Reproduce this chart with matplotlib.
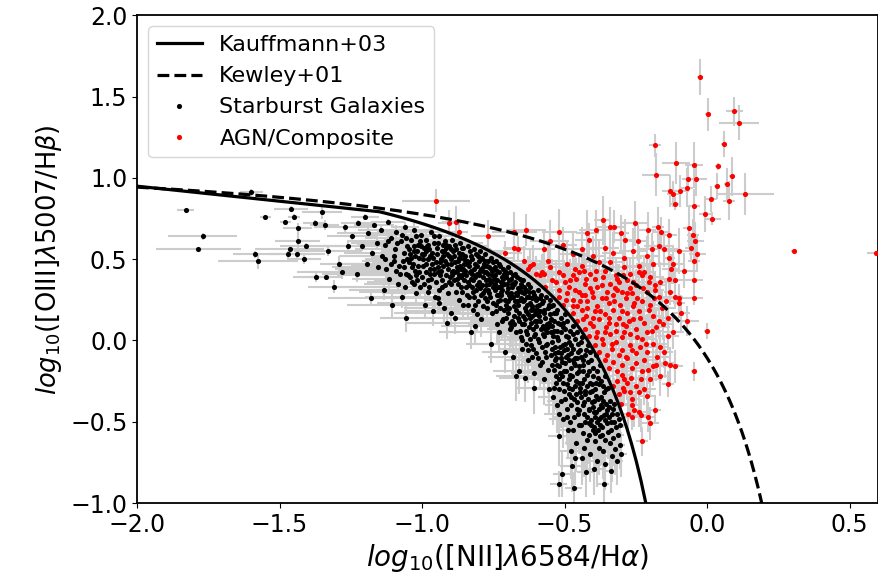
import numpy as np
import matplotlib
matplotlib.use('Agg')
import matplotlib.pyplot as plt

# demarcation lines, y = a / (x - b) + c
kauffmann_coef = (0.61, 0.05, 1.3)
kewley_coef = (0.61, 0.47, 1.19)
kauffmann_x = np.concatenate([[-2.7], np.linspace(-1.15, -0.2, 60)])
kewley_x = np.linspace(-2.0, 0.2, 200)

# starburst galaxies: (log NII/Ha, log OIII/Hb, xerr, yerr)
starburst = [
    (-1.83, 0.80, 0.03, 0.01), (-1.77, 0.64, 0.12, 0.02), (-1.785, 0.56, 0.15, 0.01), (-1.585, 0.53, 0.08, 0.02),
    (-1.577, 0.49, 0.14, 0.05), (-1.55, 0.76, 0.02, 0.01), (-1.60, 0.91, 0.04, 0.02), (-1.46, 0.81, 0.06, 0.02),
    (-1.45, 0.76, 0.02, 0.02), (-1.48, 0.73, 0.02, 0.01), (-1.437, 0.69, 0.05, 0.03), (-1.437, 0.61, 0.08, 0.05),
    (-1.465, 0.56, 0.12, 0.03), (-1.472, 0.53, 0.07, 0.02), (-1.44, 0.53, 0.10, 0.04), (-1.415, 0.50, 0.06, 0.03),
    (-1.408, 0.58, 0.09, 0.02), (-1.373, 0.39, 0.08, 0.03), (-1.338, 0.39, 0.06, 0.02), (-1.352, 0.79, 0.07, 0.04),
    (-1.377, 0.72, 0.04, 0.02), (-1.342, 0.71, 0.05, 0.03),
    (-1.33, 0.55, 0.12, 0.03), (-1.31, 0.33, 0.09, 0.04), (-1.29, 0.47, 0.07, 0.05), (-1.26, 0.58, 0.10, 0.04),
    (-1.27, 0.70, 0.11, 0.03), (-1.28, 0.42, 0.16, 0.04),
    (-1.245, 0.64, 0.09, 0.03), (-1.23, 0.41, 0.12, 0.05), (-1.225, 0.72, 0.06, 0.02), (-1.21, 0.58, 0.14, 0.03),
    (-1.195, 0.47, 0.08, 0.04), (-1.19, 0.66, 0.11, 0.03), (-1.18, 0.26, 0.15, 0.05), (-1.175, 0.54, 0.10, 0.03),
    (-1.17, 0.71, 0.07, 0.02), (-1.16, 0.60, 0.09, 0.04), (-1.155, 0.45, 0.16, 0.03), (-1.20, 0.76, 0.05, 0.02),
    (-1.145, 0.68, 0.08, 0.03), (-1.14, 0.52, 0.15, 0.05), (-1.135, 0.31, 0.12, 0.06), (-1.13, 0.59, 0.10, 0.04),
    (-1.125, 0.44, 0.18, 0.03), (-1.12, 0.73, 0.06, 0.02), (-1.115, 0.38, 0.13, 0.07), (-1.11, 0.63, 0.09, 0.04),
    (-1.105, 0.22, 0.16, 0.08), (-1.10, 0.49, 0.11, 0.05), (-1.095, 0.56, 0.14, 0.03), (-1.09, 0.67, 0.07, 0.04),
    (-1.085, 0.35, 0.12, 0.06), (-1.08, 0.46, 0.17, 0.04), (-1.075, 0.61, 0.08, 0.03), (-1.07, 0.27, 0.13, 0.07),
    (-1.065, 0.54, 0.10, 0.05), (-1.06, 0.70, 0.05, 0.03), (-1.058, 0.14, 0.09, 0.09), (-1.055, 0.41, 0.15, 0.05),
    (-1.052, 0.58, 0.11, 0.04), (-1.13, 0.50, 0.07, 0.03), (-1.09, 0.43, 0.19, 0.05), (-1.07, 0.65, 0.12, 0.04),
    (-1.12, 0.61, 0.14, 0.03),
    (-1.045, 0.48, 0.13, 0.05), (-1.04, 0.62, 0.09, 0.04), (-1.035, 0.36, 0.16, 0.06), (-1.03, 0.55, 0.11, 0.03),
    (-1.028, 0.68, 0.07, 0.04), (-1.025, 0.43, 0.14, 0.05), (-1.02, 0.29, 0.12, 0.07), (-1.015, 0.59, 0.10, 0.04),
    (-1.01, 0.51, 0.17, 0.05), (-1.005, 0.65, 0.08, 0.03), (-1.0, 0.39, 0.13, 0.06), (-0.998, 0.46, 0.09, 0.05),
    (-0.995, 0.57, 0.15, 0.04), (-0.99, 0.22, 0.11, 0.08), (-0.985, 0.62, 0.06, 0.04), (-0.98, 0.50, 0.12, 0.05),
    (-0.975, 0.33, 0.18, 0.06), (-0.972, 0.44, 0.10, 0.05), (-0.97, 0.67, 0.07, 0.03), (-0.965, 0.54, 0.14, 0.04),
    (-0.96, 0.41, 0.09, 0.06), (-0.958, 0.60, 0.11, 0.04), (-0.955, 0.27, 0.13, 0.07), (-0.952, 0.48, 0.08, 0.05),
    (-1.038, 0.51, 0.10, 0.04), (-1.012, 0.42, 0.15, 0.05), (-0.988, 0.55, 0.09, 0.04), (-0.968, 0.38, 0.12, 0.06),
    (-1.022, 0.64, 0.06, 0.03), (-0.978, 0.59, 0.13, 0.05), (-1.048, 0.40, 0.16, 0.06), (-0.962, 0.18, 0.10, 0.09),
    (-1.0, 0.53, 0.12, 0.04), (-0.985, 0.47, 0.07, 0.05), (-1.03, 0.35, 0.14, 0.06),
    (-0.948, 0.57, 0.09, 0.04), (-0.945, 0.42, 0.13, 0.06), (-0.942, 0.31, 0.11, 0.07), (-0.94, 0.64, 0.07, 0.03),
    (-0.935, 0.50, 0.15, 0.05), (-0.932, 0.37, 0.10, 0.06), (-0.93, 0.55, 0.12, 0.04), (-0.925, 0.46, 0.08, 0.05),
    (-0.922, 0.20, 0.14, 0.09), (-0.92, 0.61, 0.09, 0.04), (-0.915, 0.40, 0.16, 0.06), (-0.912, 0.53, 0.11, 0.05),
    (-0.91, 0.29, 0.10, 0.07), (-0.905, 0.58, 0.13, 0.04), (-0.90, 0.47, 0.08, 0.06), (-0.897, 0.35, 0.12, 0.07),
    (-0.895, 0.62, 0.06, 0.03), (-0.89, 0.43, 0.14, 0.05), (-0.887, 0.52, 0.09, 0.06), (-0.885, 0.14, 0.11, 0.10),
    (-0.88, 0.56, 0.10, 0.04), (-0.877, 0.38, 0.15, 0.06), (-0.875, 0.49, 0.07, 0.05), (-0.87, 0.25, 0.12, 0.08),
    (-0.867, 0.60, 0.08, 0.04), (-0.865, 0.44, 0.13, 0.06), (-0.862, 0.33, 0.09, 0.07), (-0.86, 0.53, 0.11, 0.05),
    (-0.857, 0.41, 0.14, 0.06), (-0.855, 0.57, 0.06, 0.04), (-0.852, 0.47, 0.10, 0.05), (-0.938, 0.48, 0.12, 0.05),
    (-0.918, 0.34, 0.08, 0.07), (-0.908, 0.44, 0.15, 0.06), (-0.892, 0.55, 0.10, 0.04), (-0.882, 0.30, 0.13, 0.08),
    (-0.872, 0.51, 0.09, 0.05), (-0.858, 0.22, 0.11, 0.09), (-0.928, 0.59, 0.07, 0.04), (-0.902, 0.39, 0.12, 0.06),
    (-0.868, 0.46, 0.10, 0.05), (-0.912, 0.11, 0.14, 0.10), (-0.946, 0.26, 0.09, 0.08), (-0.883, 0.42, 0.11, 0.06),
    (-0.853, 0.37, 0.08, 0.07),
    (-0.848, 0.52, 0.10, 0.05), (-0.845, 0.40, 0.12, 0.06), (-0.842, 0.28, 0.09, 0.08), (-0.84, 0.58, 0.07, 0.04),
    (-0.837, 0.46, 0.13, 0.05), (-0.835, 0.34, 0.10, 0.07), (-0.832, 0.55, 0.08, 0.04), (-0.83, 0.05, 0.11, 0.10),
    (-0.827, 0.43, 0.14, 0.06), (-0.825, 0.50, 0.09, 0.05), (-0.822, 0.19, 0.12, 0.09), (-0.82, 0.37, 0.10, 0.07),
    (-0.817, 0.56, 0.06, 0.04), (-0.815, 0.47, 0.11, 0.06), (-0.812, 0.31, 0.13, 0.08), (-0.81, 0.53, 0.08, 0.05),
    (-0.807, 0.41, 0.10, 0.06), (-0.805, 0.24, 0.12, 0.09), (-0.802, 0.49, 0.07, 0.05), (-0.80, 0.36, 0.11, 0.07),
    (-0.797, 0.55, 0.09, 0.04), (-0.795, 0.44, 0.13, 0.06), (-0.792, 0.13, 0.10, 0.11), (-0.79, 0.51, 0.08, 0.05),
    (-0.787, 0.39, 0.12, 0.07), (-0.785, 0.29, 0.09, 0.08), (-0.782, 0.47, 0.11, 0.06), (-0.78, 0.53, 0.06, 0.04),
    (-0.777, 0.34, 0.10, 0.07), (-0.775, 0.42, 0.13, 0.06), (-0.772, 0.20, 0.08, 0.10), (-0.77, 0.49, 0.09, 0.05),
    (-0.767, 0.38, 0.11, 0.07), (-0.765, 0.45, 0.07, 0.06), (-0.762, 0.27, 0.10, 0.09), (-0.76, 0.51, 0.08, 0.05),
    (-0.757, -0.02, 0.09, 0.12), (-0.755, 0.43, 0.12, 0.06), (-0.752, 0.33, 0.10, 0.08), (-0.75, 0.48, 0.07, 0.05),
    (-0.843, 0.49, 0.11, 0.05), (-0.828, 0.38, 0.09, 0.07), (-0.818, 0.44, 0.12, 0.06), (-0.808, 0.16, 0.10, 0.10),
    (-0.798, 0.32, 0.08, 0.08), (-0.788, 0.45, 0.11, 0.06), (-0.778, 0.26, 0.09, 0.09), (-0.768, 0.41, 0.12, 0.07),
    (-0.758, 0.36, 0.07, 0.07), (-0.838, 0.22, 0.10, 0.09), (-0.813, 0.09, 0.12, 0.11), (-0.793, 0.50, 0.08, 0.05),
    (-0.773, 0.46, 0.10, 0.06), (-0.753, 0.23, 0.09, 0.10), (-0.833, 0.42, 0.11, 0.06),
    (-0.748, 0.44, 0.09, 0.06), (-0.745, 0.31, 0.11, 0.08), (-0.742, 0.18, 0.08, 0.10), (-0.74, 0.49, 0.07, 0.05),
    (-0.737, 0.37, 0.10, 0.07), (-0.735, 0.24, 0.12, 0.09), (-0.732, 0.42, 0.08, 0.06), (-0.73, 0.05, 0.09, 0.12),
    (-0.727, 0.33, 0.11, 0.08), (-0.725, 0.46, 0.06, 0.05), (-0.722, 0.28, 0.10, 0.09), (-0.72, 0.39, 0.08, 0.07),
    (-0.717, 0.13, 0.09, 0.11), (-0.715, 0.44, 0.07, 0.06), (-0.712, 0.35, 0.10, 0.08), (-0.71, -0.07, 0.08, 0.13),
    (-0.707, 0.22, 0.11, 0.10), (-0.705, 0.41, 0.06, 0.06), (-0.702, 0.30, 0.09, 0.08), (-0.70, 0.45, 0.07, 0.05),
    (-0.697, 0.17, 0.10, 0.10), (-0.695, 0.37, 0.08, 0.07), (-0.692, 0.26, 0.09, 0.09), (-0.69, 0.42, 0.06, 0.06),
    (-0.687, 0.08, 0.08, 0.12), (-0.685, 0.33, 0.10, 0.08), (-0.682, 0.40, 0.07, 0.06), (-0.68, -0.10, 0.09, 0.14),
    (-0.677, 0.21, 0.08, 0.10), (-0.675, 0.36, 0.06, 0.07), (-0.672, 0.29, 0.09, 0.09), (-0.67, -0.22, 0.07, 0.15),
    (-0.667, 0.39, 0.06, 0.06), (-0.665, 0.14, 0.08, 0.11), (-0.662, 0.32, 0.07, 0.08), (-0.66, -0.19, 0.09, 0.14),
    (-0.657, 0.25, 0.07, 0.09), (-0.655, 0.38, 0.06, 0.06), (-0.652, 0.02, 0.08, 0.12), (-0.65, 0.30, 0.07, 0.08),
    (-0.743, 0.40, 0.10, 0.06), (-0.733, 0.28, 0.08, 0.09), (-0.723, 0.36, 0.09, 0.07), (-0.713, 0.19, 0.11, 0.10),
    (-0.703, 0.35, 0.07, 0.07), (-0.693, 0.11, 0.09, 0.11), (-0.683, 0.27, 0.08, 0.09), (-0.673, 0.41, 0.06, 0.06),
    (-0.663, 0.22, 0.08, 0.10), (-0.653, 0.35, 0.07, 0.07), (-0.738, 0.10, 0.10, 0.12), (-0.718, 0.31, 0.08, 0.08),
    (-0.698, 0.24, 0.09, 0.09), (-0.678, 0.15, 0.07, 0.11), (-0.658, 0.06, 0.08, 0.12), (-0.728, 0.20, 0.09, 0.10),
    (-0.708, 0.43, 0.06, 0.06), (-0.688, 0.38, 0.08, 0.07), (-0.668, 0.28, 0.07, 0.09), (-0.648, -0.05, 0.08, 0.13),
    (-0.647, 0.37, 0.06, 0.07), (-0.645, 0.24, 0.08, 0.09), (-0.642, 0.10, 0.07, 0.11), (-0.64, -0.23, 0.09, 0.15),
    (-0.637, 0.31, 0.06, 0.08), (-0.635, 0.18, 0.08, 0.10), (-0.632, 0.04, 0.07, 0.12), (-0.63, 0.35, 0.05, 0.07),
    (-0.627, -0.12, 0.08, 0.14), (-0.625, 0.27, 0.06, 0.09), (-0.622, 0.14, 0.07, 0.11), (-0.62, 0.33, 0.05, 0.07),
    (-0.617, -0.03, 0.08, 0.13), (-0.615, 0.21, 0.06, 0.10), (-0.612, 0.07, 0.07, 0.12), (-0.61, 0.30, 0.05, 0.08),
    (-0.607, -0.20, 0.08, 0.15), (-0.606, -0.29, 0.06, 0.16), (-0.605, 0.16, 0.07, 0.10), (-0.602, 0.25, 0.05, 0.09),
    (-0.60, -0.08, 0.08, 0.13), (-0.597, 0.12, 0.06, 0.11), (-0.595, 0.31, 0.05, 0.08), (-0.592, 0.01, 0.07, 0.12),
    (-0.59, 0.22, 0.06, 0.10), (-0.587, -0.15, 0.08, 0.14), (-0.585, 0.18, 0.05, 0.10), (-0.582, 0.28, 0.05, 0.08),
    (-0.58, -0.04, 0.07, 0.13), (-0.577, 0.09, 0.06, 0.11), (-0.575, 0.24, 0.05, 0.09), (-0.572, -0.24, 0.07, 0.16),
    (-0.57, 0.14, 0.06, 0.11), (-0.567, 0.27, 0.04, 0.08), (-0.565, -0.10, 0.07, 0.14), (-0.562, 0.05, 0.06, 0.12),
    (-0.56, 0.20, 0.05, 0.10), (-0.557, -0.18, 0.07, 0.15), (-0.555, 0.11, 0.05, 0.11), (-0.552, 0.25, 0.04, 0.09),
    (-0.643, 0.29, 0.07, 0.08), (-0.633, 0.22, 0.06, 0.09), (-0.623, 0.01, 0.08, 0.12), (-0.613, 0.26, 0.05, 0.09),
    (-0.603, 0.04, 0.07, 0.12), (-0.593, 0.17, 0.06, 0.10), (-0.583, 0.07, 0.07, 0.11), (-0.573, 0.19, 0.05, 0.10),
    (-0.563, -0.02, 0.06, 0.13), (-0.553, 0.16, 0.05, 0.10), (-0.638, 0.13, 0.07, 0.11), (-0.618, 0.11, 0.06, 0.11),
    (-0.598, 0.21, 0.05, 0.10), (-0.578, -0.13, 0.07, 0.14), (-0.558, 0.08, 0.05, 0.11), (-0.628, -0.06, 0.08, 0.13),
    (-0.608, 0.19, 0.06, 0.10), (-0.588, 0.26, 0.05, 0.09), (-0.568, -0.07, 0.06, 0.13), (-0.548, 0.21, 0.04, 0.09),
    (-0.634, 0.06, 0.07, 0.12), (-0.614, -0.10, 0.08, 0.14), (-0.594, -0.11, 0.06, 0.14), (-0.574, 0.03, 0.06, 0.12),
    (-0.554, -0.30, 0.05, 0.16),
    (-0.547, 0.13, 0.05, 0.11), (-0.545, -0.01, 0.06, 0.13), (-0.542, -0.35, 0.05, 0.17), (-0.54, 0.22, 0.04, 0.09),
    (-0.537, 0.06, 0.05, 0.12), (-0.535, -0.12, 0.06, 0.14), (-0.532, 0.17, 0.04, 0.10), (-0.53, -0.26, 0.05, 0.16),
    (-0.527, 0.02, 0.05, 0.12), (-0.525, 0.19, 0.04, 0.10), (-0.522, -0.07, 0.06, 0.13), (-0.52, -0.88, 0.03, 0.08),
    (-0.518, -0.59, 0.04, 0.18), (-0.517, 0.10, 0.05, 0.11), (-0.515, -0.20, 0.05, 0.15), (-0.512, 0.14, 0.04, 0.11),
    (-0.51, -0.82, 0.03, 0.14), (-0.507, -0.03, 0.05, 0.13), (-0.505, 0.08, 0.04, 0.11), (-0.502, -0.31, 0.05, 0.16),
    (-0.50, 0.16, 0.04, 0.10), (-0.497, -0.14, 0.05, 0.14), (-0.495, 0.03, 0.04, 0.12), (-0.492, -0.42, 0.05, 0.17),
    (-0.49, 0.12, 0.04, 0.11), (-0.487, -0.09, 0.05, 0.14), (-0.485, -0.24, 0.04, 0.15), (-0.482, 0.06, 0.04, 0.12),
    (-0.48, -0.50, 0.05, 0.18), (-0.477, -0.17, 0.04, 0.15), (-0.475, -0.77, 0.04, 0.16), (-0.472, 0.09, 0.04, 0.11),
    (-0.47, -0.05, 0.05, 0.13), (-0.468, -0.91, 0.03, 0.10), (-0.467, -0.36, 0.04, 0.17), (-0.465, 0.01, 0.04, 0.12),
    (-0.462, -0.28, 0.05, 0.16), (-0.46, -0.63, 0.04, 0.18), (-0.457, -0.11, 0.04, 0.14), (-0.455, 0.05, 0.03, 0.12),
    (-0.452, -0.45, 0.04, 0.17), (-0.45, -0.19, 0.04, 0.15), (-0.543, 0.09, 0.05, 0.11), (-0.533, -0.04, 0.06, 0.13),
    (-0.523, 0.11, 0.04, 0.11), (-0.513, -0.11, 0.05, 0.14), (-0.503, -0.06, 0.05, 0.13), (-0.493, -0.27, 0.04, 0.16),
    (-0.483, -0.01, 0.04, 0.13), (-0.473, -0.30, 0.05, 0.16), (-0.463, -0.15, 0.04, 0.14), (-0.453, -0.02, 0.04, 0.13),
    (-0.538, -0.18, 0.05, 0.15), (-0.528, -0.40, 0.04, 0.17), (-0.518, -0.16, 0.05, 0.15), (-0.508, -0.22, 0.04, 0.15),
    (-0.498, -0.36, 0.05, 0.17), (-0.488, -0.55, 0.04, 0.18), (-0.478, -0.68, 0.04, 0.17), (-0.468, -0.47, 0.04, 0.18),
    (-0.458, -0.38, 0.04, 0.17), (-0.548, -0.09, 0.05, 0.14), (-0.525, 0.06, 0.04, 0.12), (-0.505, -0.48, 0.05, 0.18),
    (-0.485, -0.12, 0.04, 0.14), (-0.465, -0.72, 0.03, 0.17), (-0.498, 0.07, 0.04, 0.12), (-0.478, -0.40, 0.04, 0.17),
    (-0.447, -0.06, 0.04, 0.13), (-0.445, -0.29, 0.04, 0.16), (-0.442, -0.52, 0.04, 0.18), (-0.44, 0.02, 0.03, 0.12),
    (-0.437, -0.15, 0.04, 0.14), (-0.435, -0.40, 0.04, 0.17), (-0.432, -0.66, 0.03, 0.18), (-0.43, -0.09, 0.04, 0.14),
    (-0.427, -0.33, 0.04, 0.16), (-0.425, -0.81, 0.03, 0.15), (-0.422, -0.21, 0.04, 0.15), (-0.42, -0.47, 0.04, 0.18),
    (-0.417, -0.03, 0.03, 0.13), (-0.415, -0.58, 0.04, 0.18), (-0.412, -0.26, 0.03, 0.16), (-0.41, -0.70, 0.03, 0.17),
    (-0.407, -0.12, 0.03, 0.14), (-0.405, -0.38, 0.04, 0.17), (-0.402, -0.55, 0.03, 0.18), (-0.40, -0.17, 0.03, 0.15),
    (-0.397, -0.44, 0.04, 0.17), (-0.395, -0.62, 0.03, 0.18), (-0.392, -0.30, 0.03, 0.16), (-0.39, -0.09, 0.03, 0.13),
    (-0.387, -0.50, 0.03, 0.18), (-0.385, -0.74, 0.03, 0.16), (-0.382, -0.23, 0.03, 0.15), (-0.38, -0.42, 0.03, 0.17),
    (-0.377, -0.59, 0.03, 0.18), (-0.375, -0.15, 0.03, 0.14), (-0.372, -0.35, 0.03, 0.16), (-0.37, -0.53, 0.03, 0.18),
    (-0.367, -0.68, 0.03, 0.17), (-0.365, -0.28, 0.03, 0.16), (-0.363, -0.88, 0.02, 0.12), (-0.362, -0.46, 0.03, 0.17),
    (-0.36, -0.22, 0.03, 0.15), (-0.357, -0.61, 0.03, 0.18), (-0.355, -0.39, 0.03, 0.17), (-0.352, -0.51, 0.03, 0.18),
    (-0.443, -0.35, 0.04, 0.17), (-0.433, -0.24, 0.04, 0.15), (-0.423, -0.61, 0.03, 0.18), (-0.413, -0.43, 0.04, 0.17),
    (-0.403, -0.27, 0.03, 0.16), (-0.393, -0.57, 0.03, 0.18), (-0.383, -0.36, 0.03, 0.17), (-0.373, -0.47, 0.03, 0.17),
    (-0.363, -0.32, 0.03, 0.16), (-0.353, -0.43, 0.03, 0.17), (-0.438, -0.72, 0.03, 0.17), (-0.418, -0.13, 0.03, 0.14),
    (-0.398, -0.79, 0.03, 0.16), (-0.378, -0.66, 0.03, 0.17), (-0.358, -0.76, 0.03, 0.16), (-0.448, -0.43, 0.04, 0.17),
    (-0.428, -0.50, 0.04, 0.18), (-0.408, -0.49, 0.03, 0.18), (-0.388, -0.19, 0.03, 0.15), (-0.368, -0.41, 0.03, 0.17),
    (-0.348, -0.29, 0.03, 0.15), (-0.345, -0.47, 0.03, 0.17), (-0.342, -0.63, 0.03, 0.18), (-0.34, -0.37, 0.03, 0.16),
    (-0.337, -0.55, 0.03, 0.17), (-0.335, -0.71, 0.02, 0.16), (-0.332, -0.42, 0.03, 0.17), (-0.33, -0.60, 0.03, 0.17),
    (-0.327, -0.50, 0.02, 0.17), (-0.325, -0.39, 0.03, 0.16), (-0.322, -0.67, 0.02, 0.16), (-0.32, -0.53, 0.03, 0.17),
    (-0.317, -0.45, 0.02, 0.16), (-0.315, -0.74, 0.02, 0.15), (-0.312, -0.58, 0.02, 0.16), (-0.31, -0.48, 0.02, 0.16),
    (-0.307, -0.64, 0.02, 0.15), (-0.305, -0.52, 0.02, 0.16), (-0.302, -0.70, 0.02, 0.14), (-0.338, -0.80, 0.02, 0.14),
    # dense core of the starburst band
    (-1.098, 0.52, 0.12, 0.04), (-1.087, 0.60, 0.09, 0.03), (-1.076, 0.41, 0.14, 0.05), (-1.067, 0.49, 0.10, 0.04),
    (-1.057, 0.63, 0.08, 0.03), (-1.046, 0.56, 0.13, 0.04), (-1.036, 0.45, 0.11, 0.05), (-1.027, 0.58, 0.09, 0.04),
    (-1.018, 0.37, 0.15, 0.06), (-1.007, 0.61, 0.07, 0.03), (-0.997, 0.50, 0.12, 0.05), (-0.987, 0.42, 0.10, 0.05),
    (-0.977, 0.56, 0.08, 0.04), (-0.966, 0.47, 0.13, 0.05), (-0.957, 0.64, 0.07, 0.03), (-0.947, 0.53, 0.11, 0.04),
    (-0.936, 0.40, 0.09, 0.06), (-0.926, 0.52, 0.12, 0.05), (-0.917, 0.57, 0.08, 0.04), (-0.906, 0.36, 0.10, 0.06),
    (-1.062, 0.45, 0.11, 0.05), (-1.041, 0.39, 0.09, 0.05), (-1.003, 0.58, 0.10, 0.04), (-0.981, 0.37, 0.12, 0.06),
    (-0.943, 0.45, 0.10, 0.05), (-0.921, 0.49, 0.09, 0.05),
    (-0.898, 0.50, 0.10, 0.05), (-0.889, 0.37, 0.12, 0.06), (-0.879, 0.45, 0.09, 0.05), (-0.869, 0.54, 0.07, 0.04),
    (-0.859, 0.30, 0.11, 0.07), (-0.849, 0.43, 0.10, 0.06), (-0.839, 0.36, 0.08, 0.07), (-0.829, 0.52, 0.09, 0.05),
    (-0.819, 0.27, 0.12, 0.08), (-0.809, 0.46, 0.08, 0.06), (-0.799, 0.40, 0.10, 0.06), (-0.789, 0.34, 0.11, 0.07),
    (-0.779, 0.49, 0.07, 0.05), (-0.769, 0.31, 0.09, 0.08), (-0.759, 0.44, 0.08, 0.06), (-0.749, 0.38, 0.10, 0.07),
    (-0.739, 0.28, 0.09, 0.08), (-0.729, 0.47, 0.07, 0.05), (-0.719, 0.34, 0.08, 0.07), (-0.709, 0.25, 0.10, 0.09),
    (-0.884, 0.48, 0.09, 0.05), (-0.864, 0.39, 0.11, 0.06), (-0.844, 0.47, 0.08, 0.05), (-0.824, 0.33, 0.10, 0.07),
    (-0.804, 0.52, 0.07, 0.05), (-0.784, 0.42, 0.09, 0.06), (-0.764, 0.35, 0.08, 0.07), (-0.744, 0.45, 0.07, 0.06),
    (-0.724, 0.30, 0.09, 0.08), (-0.704, 0.39, 0.08, 0.07), (-0.874, 0.35, 0.10, 0.07), (-0.834, 0.48, 0.08, 0.05),
    (-0.794, 0.28, 0.11, 0.08), (-0.754, 0.40, 0.09, 0.07), (-0.714, 0.41, 0.07, 0.06), (-0.894, 0.42, 0.09, 0.06),
    (-0.854, 0.50, 0.08, 0.05), (-0.814, 0.39, 0.10, 0.06), (-0.774, 0.24, 0.09, 0.09), (-0.734, 0.33, 0.08, 0.08),
    (-0.699, 0.32, 0.08, 0.08), (-0.694, 0.20, 0.09, 0.10), (-0.689, 0.29, 0.07, 0.09), (-0.684, 0.12, 0.08, 0.11),
    (-0.679, 0.35, 0.06, 0.07), (-0.674, 0.24, 0.08, 0.09), (-0.669, 0.05, 0.09, 0.12), (-0.664, 0.30, 0.07, 0.08),
    (-0.659, 0.17, 0.08, 0.10), (-0.654, 0.26, 0.06, 0.09), (-0.649, 0.10, 0.08, 0.11), (-0.644, 0.33, 0.06, 0.08),
    (-0.639, 0.20, 0.07, 0.10), (-0.636, -0.02, 0.08, 0.13), (-0.631, 0.27, 0.06, 0.09), (-0.626, 0.08, 0.07, 0.11),
    (-0.621, 0.23, 0.06, 0.10), (-0.616, 0.15, 0.07, 0.10), (-0.611, -0.05, 0.08, 0.13), (-0.606, 0.28, 0.05, 0.08),
    (-0.601, 0.09, 0.07, 0.11), (-0.596, 0.19, 0.06, 0.10), (-0.591, -0.01, 0.07, 0.12), (-0.586, 0.12, 0.06, 0.11),
    (-0.581, 0.23, 0.05, 0.09), (-0.576, 0.04, 0.07, 0.12), (-0.571, 0.17, 0.06, 0.10), (-0.566, -0.03, 0.07, 0.13),
    (-0.561, 0.10, 0.06, 0.11), (-0.556, 0.22, 0.05, 0.09), (-0.691, 0.07, 0.08, 0.12), (-0.671, 0.19, 0.07, 0.10),
    (-0.651, 0.00, 0.08, 0.12), (-0.629, 0.16, 0.07, 0.10), (-0.609, 0.03, 0.07, 0.12), (-0.589, 0.15, 0.06, 0.10),
    (-0.569, 0.07, 0.06, 0.11), (-0.681, 0.27, 0.07, 0.09), (-0.641, 0.25, 0.06, 0.09), (-0.599, 0.26, 0.05, 0.09),
    (-0.549, 0.05, 0.05, 0.12), (-0.544, -0.15, 0.06, 0.14), (-0.539, 0.12, 0.05, 0.11), (-0.534, -0.08, 0.05, 0.13),
    (-0.529, -0.22, 0.06, 0.15), (-0.524, 0.00, 0.05, 0.12), (-0.519, -0.30, 0.05, 0.16), (-0.514, 0.05, 0.04, 0.12),
    (-0.509, -0.13, 0.05, 0.14), (-0.504, -0.26, 0.05, 0.15), (-0.499, -0.02, 0.04, 0.13), (-0.494, -0.19, 0.05, 0.15),
    (-0.489, 0.02, 0.04, 0.12), (-0.484, -0.33, 0.05, 0.16), (-0.479, -0.08, 0.04, 0.13), (-0.474, -0.22, 0.04, 0.15),
    (-0.469, 0.04, 0.04, 0.12), (-0.464, -0.11, 0.04, 0.14), (-0.459, -0.25, 0.04, 0.16), (-0.454, -0.07, 0.04, 0.13),
    (-0.449, -0.16, 0.04, 0.15), (-0.444, -0.01, 0.04, 0.13), (-0.439, -0.26, 0.04, 0.16), (-0.434, -0.12, 0.04, 0.14),
    (-0.429, -0.31, 0.04, 0.16), (-0.424, -0.06, 0.03, 0.13), (-0.536, 0.17, 0.04, 0.10), (-0.516, -0.04, 0.05, 0.13),
    (-0.496, -0.10, 0.05, 0.14), (-0.476, -0.03, 0.04, 0.13), (-0.456, -0.20, 0.04, 0.15), (-0.436, -0.19, 0.04, 0.15),
    (-0.526, -0.15, 0.05, 0.14), (-0.506, 0.11, 0.04, 0.11), (-0.486, -0.29, 0.05, 0.16), (-0.466, -0.14, 0.04, 0.14),
    (-0.446, -0.32, 0.04, 0.16),
    (-0.419, -0.36, 0.03, 0.16), (-0.414, -0.19, 0.03, 0.15), (-0.409, -0.52, 0.04, 0.17), (-0.404, -0.31, 0.03, 0.16),
    (-0.399, -0.22, 0.03, 0.15), (-0.394, -0.47, 0.03, 0.17), (-0.389, -0.34, 0.03, 0.16), (-0.384, -0.55, 0.03, 0.18),
    (-0.379, -0.27, 0.03, 0.15), (-0.374, -0.40, 0.03, 0.17), (-0.369, -0.58, 0.03, 0.18), (-0.364, -0.37, 0.03, 0.16),
    (-0.359, -0.49, 0.03, 0.17), (-0.354, -0.30, 0.03, 0.15), (-0.349, -0.56, 0.03, 0.17), (-0.344, -0.41, 0.03, 0.16),
    (-0.339, -0.50, 0.03, 0.17), (-0.334, -0.45, 0.03, 0.16), (-0.416, -0.42, 0.03, 0.17), (-0.396, -0.37, 0.03, 0.16),
    (-0.376, -0.52, 0.03, 0.17), (-0.356, -0.45, 0.03, 0.17), (-0.411, -0.32, 0.03, 0.16), (-0.391, -0.44, 0.03, 0.17),
    (-0.371, -0.25, 0.03, 0.15),
    (-1.043, 0.53, 0.10, 0.04), (-1.033, 0.47, 0.13, 0.05), (-1.024, 0.52, 0.09, 0.04), (-1.016, 0.46, 0.11, 0.05),
    (-1.008, 0.33, 0.14, 0.06), (-0.993, 0.53, 0.08, 0.04), (-0.983, 0.58, 0.10, 0.04), (-0.974, 0.41, 0.12, 0.06),
    (-0.963, 0.51, 0.09, 0.05), (-0.953, 0.36, 0.11, 0.06), (-0.944, 0.60, 0.08, 0.04), (-0.934, 0.43, 0.12, 0.05),
    (-0.924, 0.55, 0.09, 0.04), (-0.914, 0.47, 0.10, 0.05), (-0.904, 0.52, 0.08, 0.05), (-0.896, 0.40, 0.11, 0.06),
    (-0.886, 0.59, 0.07, 0.04), (-0.876, 0.43, 0.10, 0.06), (-0.866, 0.51, 0.09, 0.05), (-0.856, 0.44, 0.08, 0.06),
    (-1.019, 0.55, 0.12, 0.04), (-0.992, 0.35, 0.10, 0.06), (-0.959, 0.44, 0.13, 0.05), (-0.931, 0.33, 0.09, 0.07),
    (-0.899, 0.56, 0.10, 0.04), (-0.871, 0.40, 0.12, 0.06), (-1.053, 0.50, 0.09, 0.05), (-0.971, 0.52, 0.11, 0.05),
    (-0.916, 0.59, 0.07, 0.04), (-0.861, 0.57, 0.08, 0.04),
    (-0.846, 0.33, 0.10, 0.07), (-0.836, 0.27, 0.09, 0.08), (-0.826, 0.41, 0.11, 0.06), (-0.816, 0.22, 0.10, 0.09),
    (-0.806, 0.34, 0.08, 0.07), (-0.796, 0.43, 0.09, 0.06), (-0.786, 0.21, 0.10, 0.09), (-0.776, 0.37, 0.08, 0.07),
    (-0.766, 0.29, 0.09, 0.08), (-0.756, 0.17, 0.10, 0.10), (-0.746, 0.35, 0.08, 0.07), (-0.736, 0.43, 0.07, 0.06),
    (-0.726, 0.25, 0.09, 0.09), (-0.716, 0.38, 0.07, 0.07), (-0.706, 0.14, 0.09, 0.11), (-0.696, 0.28, 0.08, 0.08),
    (-0.686, 0.35, 0.07, 0.07), (-0.676, 0.10, 0.08, 0.11), (-0.666, 0.24, 0.07, 0.09), (-0.656, 0.32, 0.06, 0.08),
    (-0.646, 0.15, 0.07, 0.10), (-0.624, 0.30, 0.06, 0.08), (-0.619, 0.19, 0.06, 0.10), (-0.604, 0.12, 0.07, 0.11),
    (-0.741, 0.22, 0.09, 0.09), (-0.721, 0.12, 0.10, 0.11), (-0.701, 0.20, 0.08, 0.10), (-0.661, 0.12, 0.08, 0.11),
    (-0.781, 0.31, 0.09, 0.08), (-0.821, 0.30, 0.10, 0.08),
    (-0.546, -0.05, 0.05, 0.13), (-0.541, 0.03, 0.05, 0.12), (-0.531, -0.11, 0.06, 0.14), (-0.521, -0.24, 0.05, 0.15),
    (-0.511, -0.08, 0.05, 0.14), (-0.501, -0.19, 0.05, 0.15), (-0.491, -0.05, 0.04, 0.13), (-0.481, -0.21, 0.05, 0.15),
    (-0.471, -0.12, 0.04, 0.14), (-0.461, -0.33, 0.04, 0.16), (-0.451, -0.26, 0.04, 0.16), (-0.441, -0.10, 0.04, 0.14),
    (-0.431, -0.38, 0.04, 0.17), (-0.421, -0.28, 0.04, 0.16), (-0.411, -0.07, 0.03, 0.14), (-0.401, -0.41, 0.03, 0.17),
    (-0.391, -0.26, 0.03, 0.16), (-0.381, -0.48, 0.03, 0.17), (-0.511, -0.37, 0.05, 0.17), (-0.491, -0.47, 0.05, 0.17),
    (-0.471, -0.55, 0.04, 0.18), (-0.451, -0.52, 0.04, 0.18), (-0.431, -0.45, 0.04, 0.17), (-0.521, -0.45, 0.05, 0.17),
    (-0.536, -0.29, 0.05, 0.16), (-0.476, -0.35, 0.04, 0.16), (-0.456, -0.42, 0.04, 0.17), (-0.436, -0.57, 0.04, 0.18),
    (-0.416, -0.51, 0.03, 0.17), (-0.396, -0.53, 0.03, 0.18),
    (-1.11, 0.47, 0.22, 0.04), (-1.06, 0.33, 0.25, 0.05), (-1.02, 0.40, 0.28, 0.05), (-0.98, 0.30, 0.24, 0.06),
    (-0.94, 0.23, 0.22, 0.07), (-0.90, 0.17, 0.20, 0.08),
]

# AGN / composite: (log NII/Ha, log OIII/Hb, xerr, yerr)
agn = [
    (-0.025, 1.62, 0.01, 0.11), (0.004, 1.39, 0.01, 0.10), (0.095, 1.41, 0.03, 0.09), (0.113, 1.34, 0.07, 0.11),
    (0.06, 1.21, 0.01, 0.08), (-0.183, 1.20, 0.02, 0.07), (-0.109, 1.09, 0.05, 0.13), (-0.046, 1.08, 0.03, 0.14),
    (-0.18, 1.02, 0.05, 0.13), (0.039, 1.07, 0.01, 0.02), (0.088, 1.01, 0.01, 0.12), (-0.067, 0.99, 0.02, 0.08),
    (-0.039, 0.99, 0.04, 0.10), (0.07, 0.96, 0.01, 0.10), (0.035, 0.95, 0.01, 0.08), (0.134, 0.90, 0.10, 0.13),
    (-0.13, 0.92, 0.03, 0.10), (-0.12, 0.90, 0.02, 0.08), (-0.095, 0.92, 0.02, 0.10), (-0.07, 0.94, 0.02, 0.12),
    (-0.113, 0.84, 0.02, 0.04), (-0.046, 0.83, 0.02, 0.10), (0.014, 0.87, 0.02, 0.08), (0.077, 0.86, 0.02, 0.12),
    (-0.007, 0.78, 0.02, 0.11), (0.018, 0.75, 0.03, 0.04), (0.306, 0.55, 0.01, 0.01), (0.592, 0.54, 0.03, 0.01),
    (-0.951, 0.86, 0.12, 0.07), (-0.905, 0.72, 0.04, 0.08), (-0.88, 0.73, 0.05, 0.10), (-0.87, 0.67, 0.03, 0.07),
    (-0.768, 0.64, 0.06, 0.10), (-0.676, 0.67, 0.08, 0.12), (-0.637, 0.68, 0.07, 0.10), (-0.676, 0.57, 0.04, 0.09),
    (-0.662, 0.56, 0.05, 0.08), (-0.708, 0.54, 0.06, 0.07), (-0.641, 0.49, 0.05, 0.09), (-0.623, 0.46, 0.04, 0.10),
    (-0.63, 0.44, 0.05, 0.08), (-0.602, 0.41, 0.04, 0.11), (-0.588, 0.40, 0.03, 0.09), (-0.574, 0.41, 0.05, 0.10),
    (-0.56, 0.49, 0.06, 0.12), (-0.574, 0.56, 0.04, 0.10), (-0.553, 0.61, 0.07, 0.13), (-0.507, 0.59, 0.05, 0.11),
    (-0.518, 0.67, 0.06, 0.14), (-0.42, 0.66, 0.04, 0.14), (-0.415, 0.62, 0.05, 0.10), (-0.39, 0.68, 0.06, 0.12),
    (-0.366, 0.74, 0.03, 0.15), (-0.342, 0.70, 0.05, 0.12), (-0.327, 0.70, 0.04, 0.10), (-0.303, 0.66, 0.03, 0.11),
    (-0.289, 0.62, 0.04, 0.13), (-0.254, 0.72, 0.05, 0.14), (-0.243, 0.61, 0.03, 0.12), (-0.208, 0.68, 0.03, 0.11),
    (-0.194, 0.56, 0.04, 0.10), (-0.173, 0.70, 0.02, 0.12), (-0.162, 0.67, 0.03, 0.09), (-0.151, 0.56, 0.05, 0.11),
    (-0.134, 0.65, 0.03, 0.10), (-0.134, 0.51, 0.02, 0.12), (-0.127, 0.44, 0.03, 0.09), (-0.113, 0.37, 0.04, 0.08),
    (-0.134, 0.38, 0.03, 0.10), (-0.063, 0.69, 0.02, 0.13), (-0.049, 0.65, 0.02, 0.10), (-0.042, 0.61, 0.03, 0.12),
    (-0.056, 0.57, 0.02, 0.09), (-0.035, 0.53, 0.03, 0.11), (-0.046, 0.49, 0.02, 0.10), (-0.046, 0.26, 0.03, 0.04),
    (-0.099, 0.26, 0.03, 0.09), (-0.13, 0.30, 0.02, 0.08), (-0.046, 0.37, 0.03, 0.10), (0.0, 0.06, 0.01, 0.05),
    (-0.047, -0.19, 0.01, 0.06), (-0.137, 0.14, 0.03, 0.08), (-0.113, 0.27, 0.03, 0.07), (-0.099, 0.23, 0.02, 0.09),
    (-0.165, -0.04, 0.03, 0.10), (-0.137, 0.03, 0.04, 0.09), (-0.465, 0.44, 0.05, 0.10), (-0.433, 0.43, 0.04, 0.12),
    (-0.342, 0.48, 0.05, 0.11), (-0.32, 0.40, 0.03, 0.10), (-0.317, 0.38, 0.04, 0.09), (-0.239, 0.46, 0.06, 0.12),
    (-0.222, 0.42, 0.04, 0.10), (-0.229, 0.40, 0.03, 0.08), (-0.204, 0.36, 0.05, 0.11), (-0.183, 0.34, 0.04, 0.09),
    (-0.183, 0.31, 0.03, 0.10), (-0.169, 0.27, 0.04, 0.08), (-0.324, 0.32, 0.03, 0.10), (-0.30, 0.30, 0.04, 0.12),
    (-0.264, 0.29, 0.05, 0.09), (-0.271, 0.32, 0.03, 0.10), (-0.246, 0.26, 0.04, 0.11),
    (-0.229, -0.62, 0.02, 0.09), (-0.20, -0.51, 0.03, 0.10), (-0.183, -0.43, 0.02, 0.08), (-0.208, -0.47, 0.03, 0.09),
    (-0.232, -0.46, 0.02, 0.10), (-0.264, -0.47, 0.03, 0.08), (-0.278, -0.45, 0.02, 0.11), (-0.239, -0.44, 0.03, 0.09),
    (-0.255, -0.43, 0.02, 0.10), (-0.264, -0.40, 0.03, 0.08), (-0.264, -0.36, 0.02, 0.10), (-0.303, -0.39, 0.03, 0.09),
    (-0.239, -0.32, 0.04, 0.11), (-0.232, -0.24, 0.03, 0.09), (-0.20, -0.24, 0.04, 0.10), (-0.165, -0.22, 0.03, 0.12),
    (-0.137, -0.27, 0.02, 0.08), (-0.18, -0.15, 0.03, 0.10), (-0.148, -0.14, 0.04, 0.09), (-0.13, -0.15, 0.03, 0.11),
    (-0.113, -0.16, 0.03, 0.10), (-0.208, -0.18, 0.02, 0.09), (-0.268, -0.23, 0.03, 0.10), (-0.292, -0.24, 0.02, 0.08),
    (-0.30, -0.21, 0.03, 0.11), (-0.292, -0.31, 0.02, 0.09),
    (-0.61, 0.47, 0.05, 0.12), (-0.55, 0.45, 0.06, 0.14), (-0.52, 0.42, 0.04, 0.11), (-0.49, 0.47, 0.07, 0.15),
    (-0.47, 0.40, 0.05, 0.12), (-0.44, 0.46, 0.06, 0.13), (-0.41, 0.41, 0.04, 0.11), (-0.38, 0.48, 0.05, 0.14),
    (-0.36, 0.43, 0.06, 0.12), (-0.29, 0.45, 0.05, 0.13), (-0.27, 0.41, 0.04, 0.10), (-0.19, 0.47, 0.06, 0.14),
    (-0.57, 0.33, 0.04, 0.11), (-0.545, 0.37, 0.05, 0.13), (-0.52, 0.31, 0.04, 0.10), (-0.50, 0.36, 0.06, 0.12),
    (-0.485, 0.33, 0.05, 0.11), (-0.46, 0.38, 0.04, 0.13), (-0.45, 0.30, 0.05, 0.10), (-0.43, 0.35, 0.06, 0.12),
    (-0.41, 0.32, 0.04, 0.11), (-0.395, 0.38, 0.05, 0.13), (-0.37, 0.34, 0.04, 0.10), (-0.35, 0.30, 0.05, 0.12),
    (-0.31, 0.36, 0.06, 0.11), (-0.28, 0.37, 0.04, 0.13), (-0.25, 0.34, 0.05, 0.10), (-0.21, 0.30, 0.04, 0.12),
    (-0.52, 0.27, 0.04, 0.11), (-0.505, 0.22, 0.05, 0.10), (-0.49, 0.29, 0.04, 0.12), (-0.47, 0.25, 0.05, 0.11),
    (-0.455, 0.21, 0.04, 0.10), (-0.44, 0.28, 0.05, 0.12), (-0.42, 0.24, 0.04, 0.11), (-0.40, 0.27, 0.05, 0.13),
    (-0.385, 0.21, 0.04, 0.10), (-0.37, 0.26, 0.05, 0.12), (-0.345, 0.23, 0.04, 0.11), (-0.33, 0.28, 0.05, 0.10),
    (-0.305, 0.22, 0.04, 0.12), (-0.285, 0.26, 0.05, 0.11), (-0.26, 0.21, 0.04, 0.13), (-0.23, 0.24, 0.05, 0.10),
    (-0.20, 0.22, 0.04, 0.12), (-0.16, 0.20, 0.05, 0.11),
    (-0.47, 0.17, 0.04, 0.11), (-0.455, 0.12, 0.05, 0.10), (-0.44, 0.19, 0.04, 0.12), (-0.425, 0.15, 0.05, 0.11),
    (-0.41, 0.11, 0.04, 0.10), (-0.395, 0.18, 0.05, 0.12), (-0.38, 0.13, 0.04, 0.11), (-0.36, 0.16, 0.05, 0.13),
    (-0.345, 0.11, 0.04, 0.10), (-0.33, 0.19, 0.05, 0.12), (-0.31, 0.14, 0.04, 0.11), (-0.295, 0.10, 0.05, 0.10),
    (-0.28, 0.17, 0.04, 0.12), (-0.26, 0.13, 0.05, 0.11), (-0.24, 0.18, 0.04, 0.13), (-0.22, 0.11, 0.05, 0.10),
    (-0.19, 0.15, 0.04, 0.12), (-0.17, 0.12, 0.05, 0.11),
    (-0.43, 0.07, 0.04, 0.11), (-0.415, 0.03, 0.04, 0.10), (-0.40, 0.09, 0.05, 0.12), (-0.385, 0.05, 0.04, 0.11),
    (-0.37, 0.01, 0.05, 0.10), (-0.355, 0.08, 0.04, 0.12), (-0.34, 0.04, 0.05, 0.11), (-0.32, 0.06, 0.04, 0.13),
    (-0.30, 0.02, 0.05, 0.10), (-0.285, 0.09, 0.04, 0.12), (-0.27, 0.04, 0.05, 0.11), (-0.25, 0.07, 0.04, 0.10),
    (-0.23, 0.01, 0.05, 0.12), (-0.21, 0.05, 0.04, 0.11), (-0.18, 0.08, 0.05, 0.10),
    (-0.395, -0.03, 0.04, 0.11), (-0.38, -0.07, 0.04, 0.10), (-0.365, -0.02, 0.05, 0.12), (-0.35, -0.09, 0.04, 0.11),
    (-0.335, -0.05, 0.05, 0.10), (-0.32, -0.01, 0.04, 0.12), (-0.30, -0.06, 0.05, 0.11), (-0.285, -0.10, 0.04, 0.13),
    (-0.27, -0.03, 0.05, 0.10), (-0.25, -0.08, 0.04, 0.12), (-0.235, -0.04, 0.05, 0.11), (-0.21, -0.07, 0.04, 0.10),
    (-0.19, -0.02, 0.05, 0.12),
    (-0.36, -0.12, 0.04, 0.11), (-0.345, -0.17, 0.04, 0.12), (-0.33, -0.13, 0.05, 0.10), (-0.315, -0.19, 0.04, 0.11),
    (-0.30, -0.15, 0.05, 0.12), (-0.28, -0.11, 0.04, 0.10), (-0.265, -0.17, 0.05, 0.11), (-0.25, -0.14, 0.04, 0.12),
    (-0.23, -0.19, 0.05, 0.10), (-0.22, -0.12, 0.04, 0.11), (-0.19, -0.16, 0.05, 0.12),
    (-0.33, -0.28, 0.03, 0.11), (-0.315, -0.25, 0.04, 0.10), (-0.31, -0.33, 0.03, 0.12), (-0.295, -0.29, 0.04, 0.11),
    (-0.28, -0.26, 0.03, 0.10), (-0.27, -0.32, 0.04, 0.12), (-0.25, -0.28, 0.03, 0.11), (-0.22, -0.30, 0.04, 0.10),
    (-0.21, -0.34, 0.03, 0.12),
    (-0.47, 0.53, 0.05, 0.13), (-0.44, 0.56, 0.06, 0.14), (-0.40, 0.52, 0.04, 0.12), (-0.36, 0.57, 0.05, 0.15),
    (-0.33, 0.54, 0.04, 0.12), (-0.29, 0.51, 0.06, 0.13), (-0.26, 0.55, 0.05, 0.14), (-0.21, 0.52, 0.04, 0.12),
    (-0.17, 0.58, 0.05, 0.13), (-0.12, 0.47, 0.04, 0.12), (-0.10, 0.55, 0.05, 0.14), (-0.08, 0.43, 0.04, 0.11),
    (-0.12, 0.05, 0.04, 0.10), (-0.09, 0.17, 0.03, 0.11), (-0.07, 0.12, 0.04, 0.09), (-0.15, -0.07, 0.03, 0.10),
    (-0.505, 0.40, 0.05, 0.12), (-0.495, 0.25, 0.04, 0.11), (-0.48, 0.37, 0.05, 0.13), (-0.465, 0.31, 0.04, 0.10),
    (-0.45, 0.42, 0.05, 0.12), (-0.445, 0.24, 0.04, 0.11), (-0.435, 0.13, 0.05, 0.12), (-0.425, 0.38, 0.04, 0.13),
    (-0.42, 0.20, 0.05, 0.10), (-0.405, 0.30, 0.04, 0.12), (-0.40, 0.14, 0.05, 0.11), (-0.39, 0.43, 0.04, 0.13),
    (-0.39, 0.02, 0.05, 0.10), (-0.375, 0.18, 0.04, 0.12), (-0.365, 0.39, 0.05, 0.11), (-0.36, 0.05, 0.04, 0.10),
    (-0.355, 0.26, 0.05, 0.12), (-0.345, 0.14, 0.04, 0.11), (-0.34, 0.35, 0.05, 0.13), (-0.335, -0.02, 0.04, 0.10),
    (-0.325, 0.24, 0.05, 0.12), (-0.32, 0.10, 0.04, 0.11), (-0.315, 0.31, 0.05, 0.10), (-0.31, -0.09, 0.04, 0.12),
    (-0.30, 0.18, 0.05, 0.11), (-0.295, 0.40, 0.04, 0.13), (-0.29, 0.05, 0.05, 0.10), (-0.28, 0.29, 0.04, 0.12),
    (-0.275, 0.12, 0.05, 0.11), (-0.265, -0.06, 0.04, 0.10), (-0.26, 0.36, 0.05, 0.13), (-0.255, 0.23, 0.04, 0.11),
    (-0.245, 0.02, 0.05, 0.12), (-0.24, 0.42, 0.04, 0.12), (-0.235, 0.14, 0.05, 0.10), (-0.225, 0.32, 0.04, 0.12),
    (-0.215, -0.02, 0.05, 0.11), (-0.205, 0.19, 0.04, 0.13), (-0.20, 0.39, 0.05, 0.11), (-0.195, 0.06, 0.04, 0.10),
    (-0.185, 0.26, 0.05, 0.12), (-0.175, -0.10, 0.04, 0.11), (-0.165, 0.36, 0.05, 0.12), (-0.155, 0.10, 0.04, 0.10),
    (-0.145, 0.24, 0.05, 0.13), (-0.385, 0.33, 0.04, 0.11), (-0.43, 0.28, 0.05, 0.12), (-0.47, 0.21, 0.04, 0.10),
    (-0.53, 0.36, 0.05, 0.12), (-0.58, 0.42, 0.04, 0.11),
]

sb_x, sb_y, sb_xe, sb_ye = map(np.array, zip(*starburst))
agn_x, agn_y, agn_xe, agn_ye = map(np.array, zip(*agn))


def demarcation(x, coef):
    a, b, c = coef
    return a / (x - b) + c


fig, ax = plt.subplots(figsize=(8.79, 5.87), dpi=100)
fig.subplots_adjust(left=0.156, right=0.999, bottom=0.143, top=0.974)

ax.plot(kauffmann_x, demarcation(kauffmann_x, kauffmann_coef), 'k-', lw=2.3, label='Kauffmann+03', zorder=4)
ax.plot(kewley_x, demarcation(kewley_x, kewley_coef), 'k--', lw=2.3, label='Kewley+01', zorder=4)

ax.errorbar(sb_x, sb_y, xerr=sb_xe, yerr=sb_ye, fmt='none', ecolor='#cccccc', elinewidth=1.5, zorder=1)
ax.errorbar(agn_x, agn_y, xerr=agn_xe, yerr=agn_ye, fmt='none', ecolor='#cccccc', elinewidth=1.5, zorder=1)
ax.plot(sb_x, sb_y, 'o', color='k', ms=3.7, mew=0, ls='none', label='Starburst Galaxies', zorder=3)
ax.plot(agn_x, agn_y, 'o', color='r', ms=3.7, mew=0, ls='none', label='AGN/Composite', zorder=3)

ax.set_xlim(-2.0, 0.6)
ax.set_ylim(-1.0, 2.0)
ax.set_xlabel(r'$log_{10}$([NII]$\lambda$6584/H$\alpha$)', fontsize=20)
ax.set_ylabel(r'$log_{10}$([OIII]$\lambda$5007/H$\beta$)', fontsize=18.5)
ax.tick_params(labelsize=17)
for spine in ax.spines.values():
    spine.set_linewidth(1.3)
ax.legend(loc='upper left', fontsize=16)

plt.savefig('out.png')
